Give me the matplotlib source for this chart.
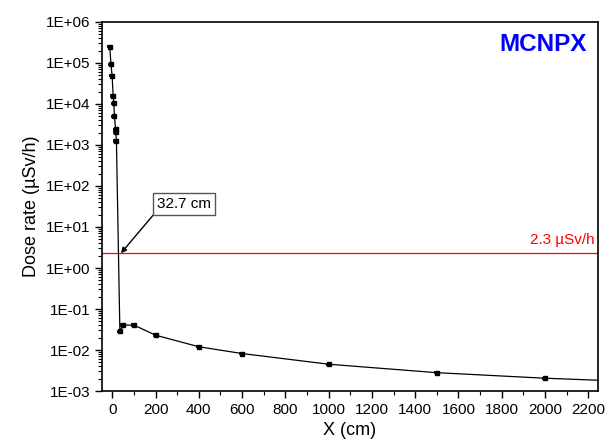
import numpy as np
import matplotlib
matplotlib.use("Agg")
import matplotlib.pyplot as plt
from matplotlib.ticker import MultipleLocator, FuncFormatter, LogLocator

plt.rcParams['font.family'] = ['Liberation Sans', 'DejaVu Sans']

# distance (cm) and dose rate (uSv/h)
distancia = [-12, -6, -1, 4, 7, 10, 15, 16, 19, 35, 50, 100, 200, 400, 600, 1000, 1500, 2000, 2500]
dosis = [2.49e5, 9.2e4, 4.9e4, 1.58e4, 1.03e4, 5.0e3, 2.4e3, 2.1e3, 1.25e3,
         2.85e-2, 4.05e-2, 4.05e-2, 2.3e-2, 1.2e-2, 8.2e-3, 4.5e-3, 2.8e-3, 2.05e-3, 1.63e-3]
limite = 2.3
distancia_limite = 32.7

fig = plt.figure(figsize=(6.14, 4.46), dpi=100)
ax = fig.add_axes([0.166, 0.1233, 0.808, 0.8274])

ax.errorbar(distancia, dosis, yerr=[d * 0.04 for d in dosis], color='black', lw=0.9,
            marker='s', ms=3.5, capsize=2.5, elinewidth=1, capthick=1.2)
ax.axhline(limite, color='#ff0000', lw=0.9)

ax.set_yscale('log')
ax.set_xlim(-48, 2245)
ax.set_ylim(1e-3, 1e6)

ax.xaxis.set_major_locator(MultipleLocator(200))
ax.xaxis.set_minor_locator(MultipleLocator(100))
ax.yaxis.set_major_locator(LogLocator(base=10, numticks=20))
ax.yaxis.set_minor_locator(LogLocator(base=10, subs=np.arange(2, 10), numticks=20))
ax.yaxis.set_major_formatter(FuncFormatter(lambda v, p: "1E%+03d" % int(round(np.log10(v)))))

ax.tick_params(which='major', direction='out', length=5, width=1, labelsize=11)
ax.tick_params(which='minor', direction='out', length=3, width=0.8)
ax.tick_params(axis='y', which='minor', labelleft=False)

ax.set_xlabel('X (cm)', fontsize=13)
ax.set_ylabel('Dose rate (µSv/h)', fontsize=13)

ax.text(2228, 4.7, '2.3 µSv/h', color='#ff0000', fontsize=11, ha='right', va='center')
ax.text(0.89, 0.94, 'MCNPX', color='#0000ff', fontsize=17.5, fontweight='bold',
        ha='center', va='center', transform=ax.transAxes)

ax.annotate('%.1f cm' % distancia_limite, xy=(40, limite), xytext=(331, 37),
            fontsize=11, ha='center', va='center',
            bbox=dict(boxstyle='square,pad=0.25', fc='white', ec='#555555', lw=1),
            arrowprops=dict(arrowstyle='-|>', color='black', lw=1, relpos=(0, 0),
                            mutation_scale=8, shrinkA=0, shrinkB=0))

for s in ax.spines.values():
    s.set_linewidth(1.2)

fig.savefig('out.png', dpi=100)
